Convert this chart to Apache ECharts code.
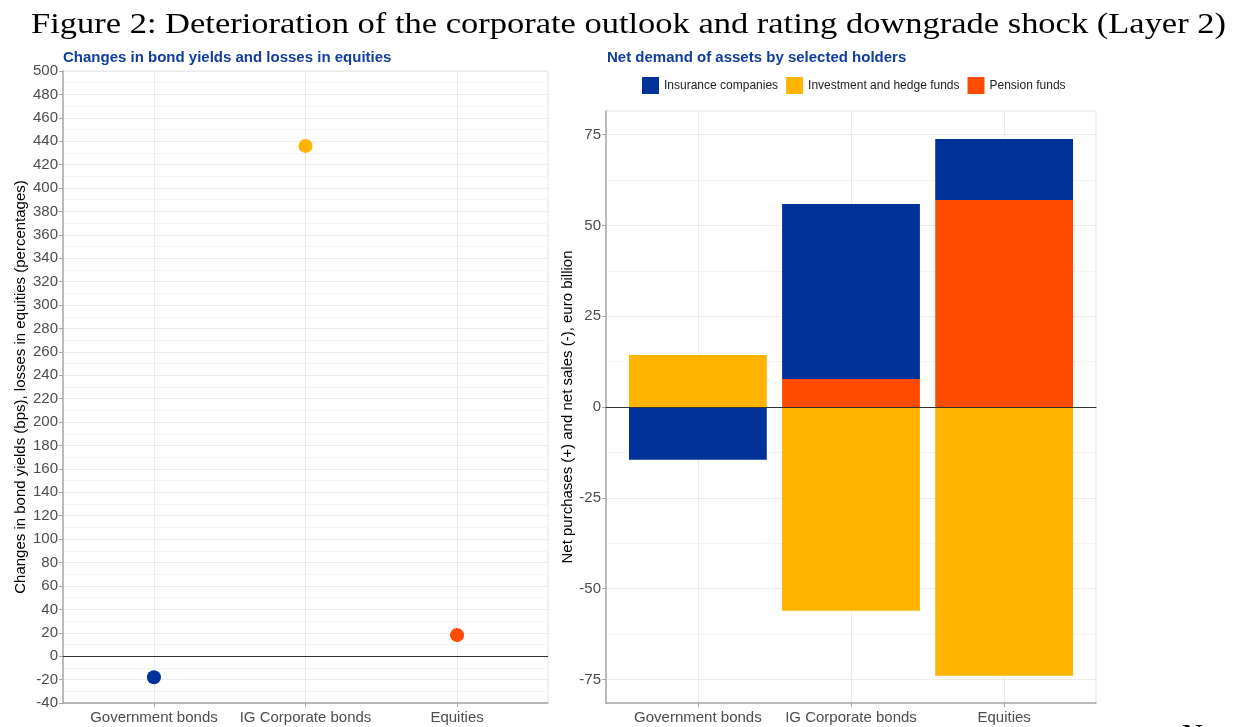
<!DOCTYPE html>
<html><head><meta charset="utf-8">
<script src="https://cdn.jsdelivr.net/npm/echarts@6/dist/echarts.min.js"></script>
<style>html,body{margin:0;padding:0;background:#fff}#c{width:1234px;height:727px}</style>
</head><body><div id="c"></div>
<script>
// ---- data ----
const titleText = 'Figure 2: Deterioration of the corporate outlook and rating downgrade shock (Layer 2)';
const leftTitle = 'Changes in bond yields and losses in equities';
const rightTitle = 'Net demand of assets by selected holders';
const categories = ['Government bonds', 'IG Corporate bonds', 'Equities'];
const yieldChanges = [-18, 436, 18];
const pointColors = ['#003299', '#FFB400', '#FF4B00'];
const holders = ['Insurance companies', 'Investment and hedge funds', 'Pension funds'];
const insurance = [-14.5, 48.2, 16.8];
const investment = [14.3, -56.1, -74.0];
const pension = [0, 7.7, 57.0];
const holderColors = ['#003299', '#FFB400', '#FF4B00'];
const rightTicks = [-75, -50, -25, 0, 25, 50, 75];
const rightMinorTicks = [-62.5, -37.5, -12.5, 12.5, 37.5, 62.5];

const xPos = categories.map((c, i) => i + 1);
const SANS = '"Liberation Sans", Arial, sans-serif';
const SERIF = '"Liberation Serif", "Times New Roman", serif';

// title width fitting
const ctx = document.createElement('canvas').getContext('2d');
ctx.font = '29px ' + SERIF;
const tw = ctx.measureText(titleText).width;
const titleScale = 1195 / tw;

// right panel layout (ggplot-like discrete expansion of 0.6 units)
const RL = 606, RW = 490, RT = 111, RH = 592;
const unit = RW / 3.2;

const chart = echarts.init(document.getElementById('c'));

function catX(grid) {
  return {
    gridIndex: grid, type: 'value', min: 0.4, max: 3.6,
    axisLine: { show: true, onZero: false, lineStyle: { color: '#a8a8a8', width: 1.5 } },
    axisTick: { show: true, customValues: xPos, length: 4, lineStyle: { color: '#a8a8a8' } },
    axisLabel: { customValues: xPos, formatter: v => categories[Math.round(v) - 1] || '', color: '#4d4d4d', fontSize: 15, fontFamily: SANS, margin: 7 },
    splitLine: { show: true, lineStyle: { color: '#ebebeb', width: 1 } }
  };
}

const zeroLine = {
  silent: true, symbol: 'none',
  lineStyle: { color: '#333', width: 1, type: 'solid' },
  label: { show: false }, emphasis: { disabled: true },
  data: [{ yAxis: 0 }]
};

const barData = [pension, insurance, investment];
const barNames = [holders[2], holders[0], holders[1]];
const barColors = [holderColors[2], holderColors[0], holderColors[1]];

const option = {
  backgroundColor: '#fff',
  animation: false,
  graphic: [
    { type: 'text', x: 31, y: 25, scaleX: titleScale, style: { text: titleText, font: '29px ' + SERIF, fill: '#000', verticalAlign: 'middle', align: 'left' } },
    { type: 'text', x: 1182, y: 722, style: { text: 'N', font: '29px ' + SERIF, fill: '#000', verticalAlign: 'top' } },
    { type: 'text', x: 63, y: 58, style: { text: leftTitle, font: 'bold 15px ' + SANS, fill: '#103d9e', verticalAlign: 'middle' } },
    { type: 'text', x: 607, y: 58, style: { text: rightTitle, font: 'bold 15px ' + SANS, fill: '#103d9e', verticalAlign: 'middle' } }
  ],
  legend: {
    data: holders, left: 637, top: 72, itemWidth: 17, itemHeight: 17, itemGap: 8, icon: 'rect',
    textStyle: { fontSize: 12, fontFamily: SANS, color: '#222' }
  },
  grid: [
    { left: 63, top: 71, width: 485, height: 632, show: true, borderColor: '#e3e3e3', borderWidth: 1, backgroundColor: '#fff' },
    { left: RL, top: RT, width: RW, height: RH, show: true, borderColor: '#e3e3e3', borderWidth: 1, backgroundColor: '#fff' },
    { left: RL + 0.1 * unit, top: RT, width: 3 * unit, height: RH, show: false }
  ],
  xAxis: [
    catX(0),
    catX(1),
    { gridIndex: 2, type: 'category', data: categories, show: false },
    {
      gridIndex: 1, type: 'value', min: 0.4, max: 3.6, position: 'top',
      axisLine: { show: true, onZero: true, onZeroAxisIndex: 1, lineStyle: { color: '#333', width: 1 } },
      axisTick: { show: false }, axisLabel: { show: false }, splitLine: { show: false }, z: 10
    }
  ],
  yAxis: [
    {
      gridIndex: 0, type: 'value', min: -40, max: 500, interval: 20,
      name: 'Changes in bond yields (bps), losses in equities (percentages)',
      nameLocation: 'middle', nameGap: 35, nameRotate: 90,
      nameTextStyle: { fontSize: 15, fontFamily: SANS, color: '#000' },
      axisLine: { show: true, onZero: false, lineStyle: { color: '#a8a8a8', width: 1.5 } },
      axisTick: { show: true, length: 4, lineStyle: { color: '#a8a8a8' } },
      axisLabel: { color: '#4d4d4d', fontSize: 15, fontFamily: SANS, margin: 5 },
      splitLine: { show: true, lineStyle: { color: '#ebebeb' } },
      minorTick: { show: false, splitNumber: 2 },
      minorSplitLine: { show: true, lineStyle: { color: '#f4f4f4' } }
    },
    {
      gridIndex: 1, type: 'value', min: -81.5, max: 81.5,
      name: 'Net purchases (+) and net sales (-), euro billion',
      nameLocation: 'middle', nameGap: 29, nameRotate: 90,
      nameTextStyle: { fontSize: 15, fontFamily: SANS, color: '#000' },
      axisLine: { show: true, onZero: false, lineStyle: { color: '#a8a8a8', width: 1.5 } },
      axisTick: { show: true, length: 4, customValues: rightTicks, lineStyle: { color: '#a8a8a8' } },
      axisLabel: { customValues: rightTicks, color: '#4d4d4d', fontSize: 15, fontFamily: SANS, margin: 5 },
      splitLine: { show: true, lineStyle: { color: '#ebebeb' } }
    },
    {
      gridIndex: 1, type: 'value', min: -81.5, max: 81.5, position: 'left',
      axisLine: { show: false }, axisLabel: { show: false },
      axisTick: { show: false, customValues: rightMinorTicks },
      splitLine: { show: true, lineStyle: { color: '#f4f4f4' } }
    },
    { gridIndex: 2, type: 'value', min: -81.5, max: 81.5, show: false, splitLine: { show: false } }
  ],
  series: [
    {
      type: 'scatter', xAxisIndex: 0, yAxisIndex: 0, symbolSize: 14, silent: true,
      itemStyle: { opacity: 1 },
      data: categories.map((c, i) => ({ value: [xPos[i], yieldChanges[i]], itemStyle: { color: pointColors[i], opacity: 1 } })),
      markLine: zeroLine, z: 5
    }
  ].concat(barData.map((arr, k) => ({
    type: 'bar', name: barNames[k], xAxisIndex: 2, yAxisIndex: 3, stack: 'total', barWidth: '90%',
    itemStyle: { color: barColors[k] }, silent: true,
    data: arr
  })))
};
chart.setOption(option);
</script></body></html>
